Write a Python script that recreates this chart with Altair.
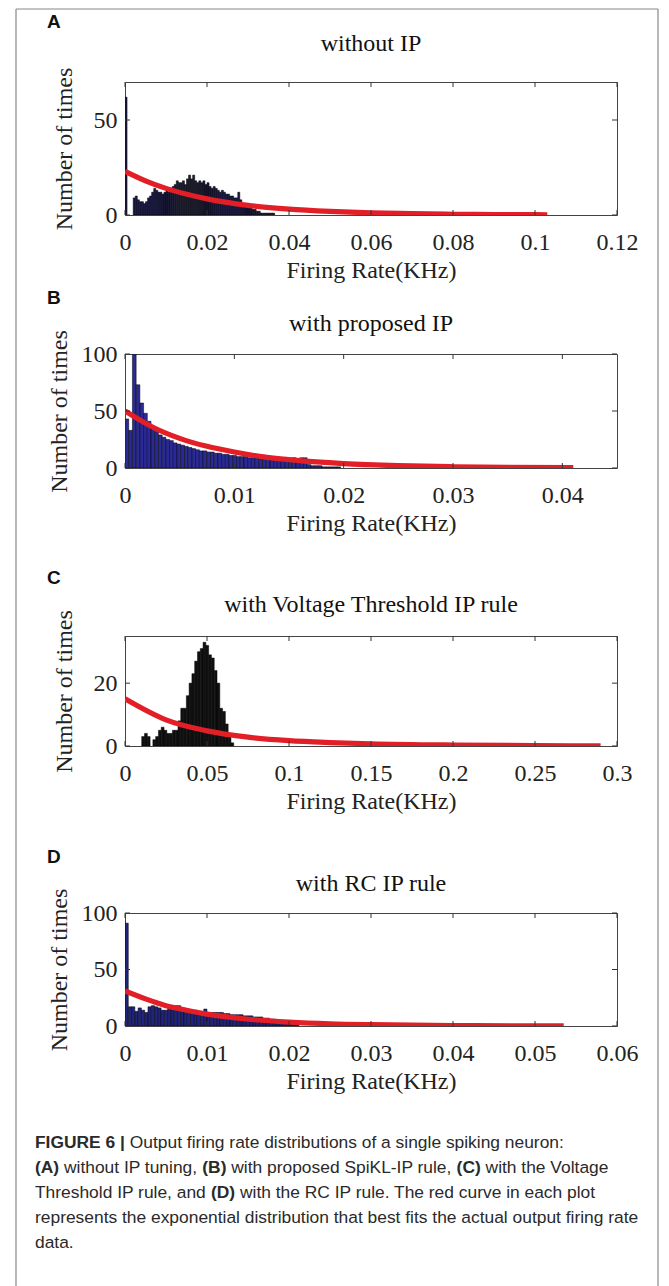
import altair as alt
import pandas as pd

SERIF = "Liberation Serif"
SANS = "Liberation Sans"
RED = "#e21f26"

# ---------------- data ----------------
A_LETTER, A_TITLE = "A", "without IP"
A_BIN = 0.0005
A_COUNTS = [62, 0, 0, 0, 9, 10, 8, 7, 7, 6, 7, 9, 10, 12, 14, 13, 12, 12, 11, 12,
            13, 12, 14, 15, 16, 18, 17, 17, 18, 16, 19, 21, 19, 21, 18, 17, 18, 17, 18, 16,
            17, 15, 14, 15, 14, 13, 12, 13, 12, 11, 11, 10, 10, 9, 9, 12, 8, 6, 6, 5,
            4, 4, 3, 3, 2, 2, 1, 1, 1, 1, 1, 1, 1]
A_FIT_X = [0, 0.005, 0.01, 0.02, 0.03, 0.04, 0.05, 0.06, 0.07, 0.08, 0.09, 0.1, 0.103]
A_FIT_Y = [23, 18, 14, 8.5, 5.1, 3.1, 1.9, 1.1, 0.7, 0.4, 0.25, 0.15, 0.13]
A_XTICKS = [0, 0.02, 0.04, 0.06, 0.08, 0.1, 0.12]
A_YTICKS = [0, 50]
A_XMAX, A_YMAX = 0.12, 70

B_LETTER, B_TITLE = "B", "with proposed IP"
B_BIN = 0.00034
B_COUNTS = [43, 33, 100, 73, 57, 48, 41, 36, 32, 29,
            27, 25, 24, 22, 21, 20, 19, 18, 17, 16,
            15, 15, 14, 14, 13, 13, 12, 12, 11, 11,
            10, 10, 10, 9, 9, 9, 8, 8, 8, 7,
            7, 7, 8, 7, 8, 9, 7, 9, 9, 3,
            2, 2, 2, 1, 1, 1, 1, 1, 0, 0,
            0, 0, 0, 0, 0, 0, 0, 0, 0, 0,
            0, 0, 0, 0, 0, 0, 0, 1, 0, 1,
            1, 0, 1, 1, 1, 0, 1, 1, 0, 1,
            0, 1]
B_FIT_X = [0, 0.0025, 0.005, 0.0075, 0.01, 0.0125, 0.015, 0.0175, 0.02, 0.025, 0.03, 0.035, 0.041]
B_FIT_Y = [50, 36, 26, 19, 14, 10, 7.3, 5.3, 3.8, 2.0, 1.1, 0.6, 0.3]
B_XTICKS = [0, 0.01, 0.02, 0.03, 0.04]
B_YTICKS = [0, 50, 100]
B_XMAX, B_YMAX = 0.045, 100

C_LETTER, C_TITLE = "C", "with Voltage Threshold IP rule"
C_BIN = 0.0017
C_COUNTS = [0, 0, 0, 0, 0, 0, 3, 4, 3, 0,
            2, 3, 5, 6, 5, 4, 4, 5, 5, 8,
            12, 12, 16, 20, 23, 27, 30, 31, 33, 32,
            29, 28, 24, 20, 12, 11, 7, 3, 1]
C_FIT_X = [0, 0.025, 0.05, 0.075, 0.1, 0.125, 0.15, 0.2, 0.25, 0.29]
C_FIT_Y = [15, 8.3, 4.8, 2.8, 1.7, 1.1, 0.7, 0.3, 0.12, 0.05]
C_XTICKS = [0, 0.05, 0.1, 0.15, 0.2, 0.25, 0.3]
C_YTICKS = [0, 20]
C_XMAX, C_YMAX = 0.3, 35

D_LETTER, D_TITLE = "D", "with RC IP rule"
D_BIN = 0.0004
D_COUNTS = [91, 17, 17, 13, 16, 14, 12, 17, 18, 17,
            16, 14, 14, 17, 17, 18, 18, 16, 15, 14,
            14, 14, 13, 13, 15, 12, 12, 12, 12, 12,
            11, 11, 10, 10, 10, 10, 9, 9, 9, 8,
            8, 8, 7, 7, 6, 6, 5, 4, 3, 3,
            2, 2, 1]
D_FIT_X = [0, 0.0025, 0.005, 0.0075, 0.01, 0.015, 0.02, 0.025, 0.03, 0.04, 0.05, 0.0535]
D_FIT_Y = [31, 24, 18, 14, 10.5, 6, 3.5, 2, 1.2, 0.4, 0.15, 0.1]
D_XTICKS = [0, 0.01, 0.02, 0.03, 0.04, 0.05, 0.06]
D_YTICKS = [0, 50, 100]
D_XMAX, D_YMAX = 0.06, 100

X_TITLE = "Firing Rate(KHz)"
Y_TITLE = "Number of times"

CAPTION = [
    [("FIGURE 6 |", True), ("Output firing rate distributions of a single spiking neuron:", False)],
    [("(A)", True), ("without IP tuning,", False), ("(B)", True),
     ("with proposed SpiKL-IP rule,", False), ("(C)", True), ("with the Voltage", False)],
    [("Threshold IP rule, and", False), ("(D)", True),
     ("with the RC IP rule. The red curve in each plot", False)],
    [("represents the exponential distribution that best fits the actual output firing rate", False)],
    [("data.", False)],
]

# ---------------- layout (pixels of the 669x1286 page) ----------------
LEFT, W = 123, 492
TOPS = [80, 352, 634, 911]
HS = [133, 114, 110, 113]
LETTER_Y = [20, 296, 576, 855]
TITLE_Y = [42, 322, 603, 882]
YTITLE_X = [62, 57, 62, 57]
FRAME_L, FRAME_T, FRAME_R = 14, 7, 656
CAP_X, CAP_Y0, CAP_DY, CAP_SIZE = 33, 1141, 25, 17.4
TICK = 5

# Arial / Liberation Sans advance widths (per 1000 em) for caption layout
REG = dict(zip("ABCDEFGHIKLOPRSTV", [667, 667, 722, 722, 667, 611, 778, 722, 278, 667, 556, 778, 667, 722, 667, 611, 667]))
REG.update(dict(zip("abcdefghijklmnopqrstuvwxyz",
                    [556, 556, 500, 556, 556, 278, 556, 556, 222, 222, 500, 222, 833, 556, 556, 556, 556,
                     333, 500, 278, 556, 500, 722, 500, 500, 500])))
REG.update({" ": 278, ",": 278, ".": 278, ":": 278, "-": 333, "(": 333, ")": 333, "|": 260, "6": 556})
BOLD = {"F": 611, "I": 278, "G": 778, "U": 722, "R": 722, "E": 667, " ": 278, "6": 556, "|": 280,
        "(": 333, ")": 333, "A": 722, "B": 722, "C": 722, "D": 722}


def text_w(s, bold):
    tab = BOLD if bold else REG
    return sum(tab.get(ch, 556) for ch in s) / 1000 * CAP_SIZE


def panel(k, letter, title, bin_w, counts, fx, fy, xt, yt, xmax, ymax, fill, frame=False, caption=False):
    top, H = TOPS[k], HS[k]
    rows = [(i * bin_w, (i + 1) * bin_w, c) for i, c in enumerate(counts) if c > 0]
    bars = pd.DataFrame(rows, columns=["x0", "x1", "n"])
    bars["z"] = 0
    fit = pd.DataFrame({"x0": fx, "n": fy})
    xtk = pd.DataFrame({"x0": xt})
    ytk = pd.DataFrame({"n": yt})

    xs = alt.Scale(domain=[0, xmax], nice=False, zero=False)
    ys = alt.Scale(domain=[0, ymax], nice=False, zero=False)
    common = dict(labelFont=SERIF, labelFontSize=24, labelColor="#222", titleFont=SERIF,
                  titleFontSize=24, titleFontWeight="normal", titleColor="#222", ticks=False,
                  domain=False, grid=False, labelOverlap=False, labelFlush=False,
                  labelExpr="'' + datum.value")
    xaxis = alt.Axis(values=xt, title=X_TITLE, labelPadding=15, titlePadding=4, **common)
    yaxis = alt.Axis(values=yt, title=Y_TITLE, labelPadding=8, titleX=YTITLE_X[k] - LEFT,
                     titleY=H / 2, titleAngle=-90, titleAlign="center", titleBaseline="middle", **common)
    X = alt.X("x0:Q", scale=xs, axis=xaxis)
    Y = alt.Y("n:Q", scale=ys, axis=yaxis)

    layers = [
        alt.Chart(bars).mark_rect(fill=fill, stroke="#000", strokeWidth=0.5, clip=True)
        .encode(x=X, x2="x1:Q", y=Y, y2="z:Q"),
        alt.Chart(fit).mark_line(color=RED, strokeWidth=5.2, interpolate="monotone", clip=True)
        .encode(x=X, y=Y),
        # inward ticks on all four sides (MATLAB box style)
        alt.Chart(xtk).mark_rule(color="#333", strokeWidth=1)
        .encode(x=X, y=alt.value(H), y2=alt.value(H - TICK)),
        alt.Chart(xtk).mark_rule(color="#333", strokeWidth=1)
        .encode(x=X, y=alt.value(0), y2=alt.value(TICK)),
        alt.Chart(ytk).mark_rule(color="#333", strokeWidth=1)
        .encode(y=Y, x=alt.value(0), x2=alt.value(TICK)),
        alt.Chart(ytk).mark_rule(color="#333", strokeWidth=1)
        .encode(y=Y, x=alt.value(W - TICK), x2=alt.value(W)),
        # panel letter and title
        alt.Chart(pd.DataFrame({"t": [letter]}))
        .mark_text(font=SANS, fontWeight="bold", fontSize=19, align="left", baseline="middle", color="#111")
        .encode(x=alt.value(45 - LEFT), y=alt.value(LETTER_Y[k] - top), text="t:N"),
        alt.Chart(pd.DataFrame({"t": [title]}))
        .mark_text(font=SERIF, fontSize=24, align="center", baseline="middle", color="#111")
        .encode(x=alt.value(W / 2), y=alt.value(TITLE_Y[k] - top), text="t:N"),
    ]
    if frame:
        fr = pd.DataFrame({"k": [0]})
        fl, ft, frr = FRAME_L - LEFT, FRAME_T - top, FRAME_R - LEFT
        bottom = 1300 - top
        layers += [
            alt.Chart(fr).mark_rule(color="#888", strokeWidth=1.2)
            .encode(x=alt.value(fl), x2=alt.value(frr), y=alt.value(ft)),
            alt.Chart(fr).mark_rule(color="#888", strokeWidth=1.2)
            .encode(x=alt.value(fl), y=alt.value(ft), y2=alt.value(bottom)),
            alt.Chart(fr).mark_rule(color="#888", strokeWidth=1.2)
            .encode(x=alt.value(frr), y=alt.value(ft), y2=alt.value(bottom)),
        ]
    if caption:
        for li, segs in enumerate(CAPTION):
            x = CAP_X
            for text, bold in segs:
                layers.append(
                    alt.Chart(pd.DataFrame({"t": [text]}))
                    .mark_text(font=SANS, fontSize=CAP_SIZE, fontWeight="bold" if bold else "normal",
                               align="left", baseline="middle", color="#2a2a2a")
                    .encode(x=alt.value(x - LEFT), y=alt.value(CAP_Y0 + li * CAP_DY - top), text="t:N"))
                x += text_w(text, bold) + text_w(" ", False)

    return alt.layer(*layers).properties(
        width=W, height=H, view=alt.ViewBackground(stroke="#444", strokeWidth=1))


def spacer(h):
    return (alt.Chart(pd.DataFrame({"k": [0]})).mark_point(opacity=0)
            .encode(x=alt.value(0), y=alt.value(0))
            .properties(width=10, height=h, view=alt.ViewBackground(stroke=None)))


pA = panel(0, A_LETTER, A_TITLE, A_BIN, A_COUNTS, A_FIT_X, A_FIT_Y, A_XTICKS, A_YTICKS, A_XMAX, A_YMAX,
           "#1c1b40", frame=True)
pB = panel(1, B_LETTER, B_TITLE, B_BIN, B_COUNTS, B_FIT_X, B_FIT_Y, B_XTICKS, B_YTICKS, B_XMAX, B_YMAX,
           "#2a2a96")
pC = panel(2, C_LETTER, C_TITLE, C_BIN, C_COUNTS, C_FIT_X, C_FIT_Y, C_XTICKS, C_YTICKS, C_XMAX, C_YMAX,
           "#111111")
pD = panel(3, D_LETTER, D_TITLE, D_BIN, D_COUNTS, D_FIT_X, D_FIT_Y, D_XTICKS, D_YTICKS, D_XMAX, D_YMAX,
           "#20247a", caption=True)

gaps = [TOPS[i + 1] - (TOPS[i] + HS[i]) for i in range(3)]

chart = (alt.vconcat(pA, spacer(gaps[0]), pB, spacer(gaps[1]), pC, spacer(gaps[2]), pD,
                     spacing=0, bounds="flush")
         .properties(padding={"left": FRAME_L, "top": FRAME_T, "right": 0, "bottom": 0},
                     background="white")
         .configure_view(stroke=None))

chart.save("out.html", embed_options={"renderer": "svg", "actions": False})
